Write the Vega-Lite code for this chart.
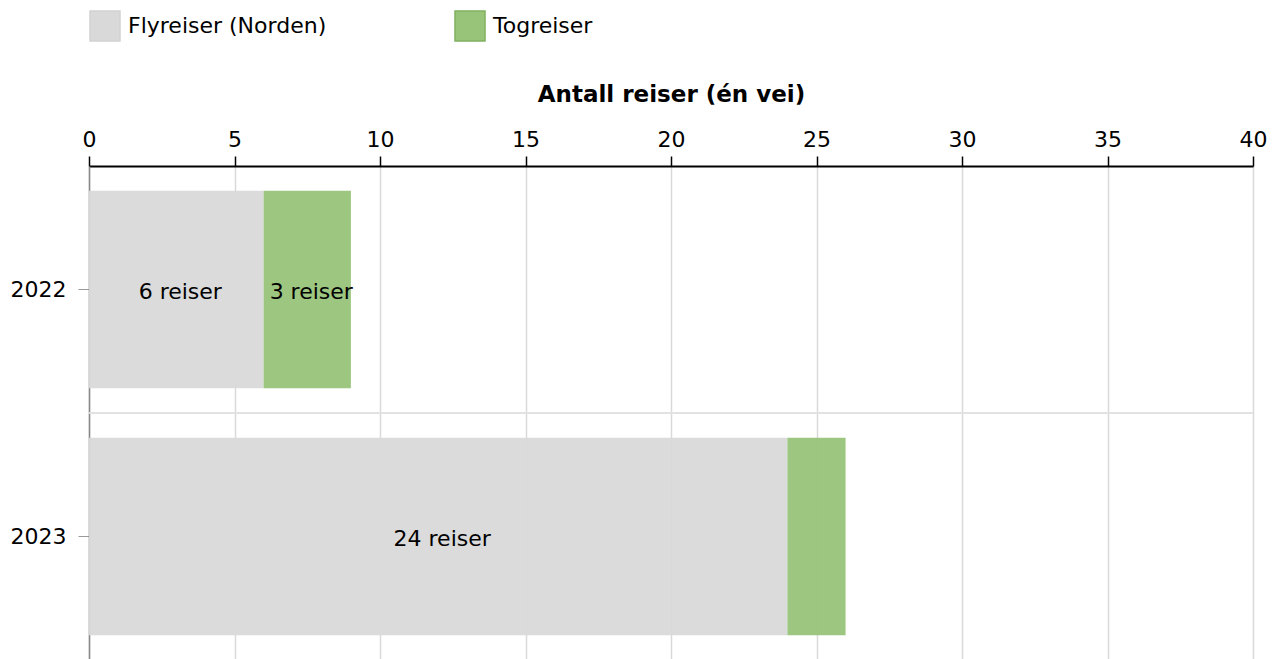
{
  "$schema": "https://vega.github.io/schema/vega-lite/v6.json",
  "autosize": "none",
  "padding": {"left": 89, "top": 166, "right": 26, "bottom": 0},
  "width": 1164,
  "height": 494,
  "config": {
    "font": "DejaVu Sans",
    "view": {"stroke": null}
  },
  "data": {
    "values": [
      {"year": "2022", "type": "Flyreiser (Norden)", "value": 6, "label": "6 reiser"},
      {"year": "2022", "type": "Togreiser", "value": 3, "label": "3 reiser"},
      {"year": "2023", "type": "Flyreiser (Norden)", "value": 24, "label": "24 reiser"},
      {"year": "2023", "type": "Togreiser", "value": 2, "label": ""}
    ]
  },
  "transform": [
    {"stack": "value", "groupby": ["year"], "sort": [{"field": "type", "order": "ascending"}], "as": ["v0", "v1"]},
    {"calculate": "(datum.v0 + datum.v1) / 2", "as": "mid"}
  ],
  "layer": [
    {
      "mark": {"type": "rule", "color": "#e0e0e0", "strokeWidth": 1.5, "yOffset": 123.5},
      "encoding": {
        "y": {"field": "year", "type": "nominal"}
      }
    },
    {
      "mark": {"type": "bar", "opacity": 0.95},
      "encoding": {
        "y": {
          "field": "year", "type": "nominal",
          "scale": {"paddingInner": 0.2, "paddingOuter": 0.1},
          "axis": {
            "title": null, "orient": "left", "grid": false,
            "labelFontSize": 22, "labelColor": "#000", "labelPadding": 12,
            "tickSize": 11, "tickColor": "#999", "tickWidth": 1,
            "domainColor": "#888", "domainWidth": 1.5
          }
        },
        "x": {
          "field": "v0", "type": "quantitative",
          "scale": {"domain": [0, 40], "nice": false},
          "axis": {
            "orient": "top", "title": "Antall reiser (én vei)",
            "titleFontSize": 23, "titleFontWeight": "bold", "titleColor": "#000", "titlePadding": 22,
            "labelFontSize": 22, "labelColor": "#000", "labelPadding": 5, "labelFlush": false,
            "values": [0, 5, 10, 15, 20, 25, 30, 35, 40],
            "tickSize": 10, "tickColor": "#000", "tickWidth": 1.5,
            "domainColor": "#000", "domainWidth": 2,
            "grid": true, "gridColor": "#d9d9d9", "gridWidth": 1.5
          }
        },
        "x2": {"field": "v1"},
        "color": {
          "field": "type", "type": "nominal",
          "scale": {"domain": ["Flyreiser (Norden)", "Togreiser"], "range": ["#d9d9d9", "#98c47a"]},
          "legend": {
            "title": null, "orient": "none", "legendX": 0, "legendY": -156,
            "direction": "horizontal", "columnPadding": 125, "labelLimit": 500,
            "symbolType": "square", "symbolSize": 900, "symbolOpacity": 1,
            "symbolStrokeWidth": 1.5,
            "labelFontSize": 22, "labelColor": "#000", "labelOffset": 7,
            "encode": {"symbols": {"update": {"stroke": {"signal": "datum.value === 'Togreiser' ? '#80b060' : '#d2d2d2'"}}}}
          }
        }
      }
    },
    {
      "mark": {"type": "text", "fontSize": 22, "color": "#000", "baseline": "middle", "align": "center", "dx": 4, "dy": 2},
      "encoding": {
        "y": {"field": "year", "type": "nominal"},
        "x": {"field": "mid", "type": "quantitative"},
        "text": {"field": "label"}
      }
    }
  ]
}
